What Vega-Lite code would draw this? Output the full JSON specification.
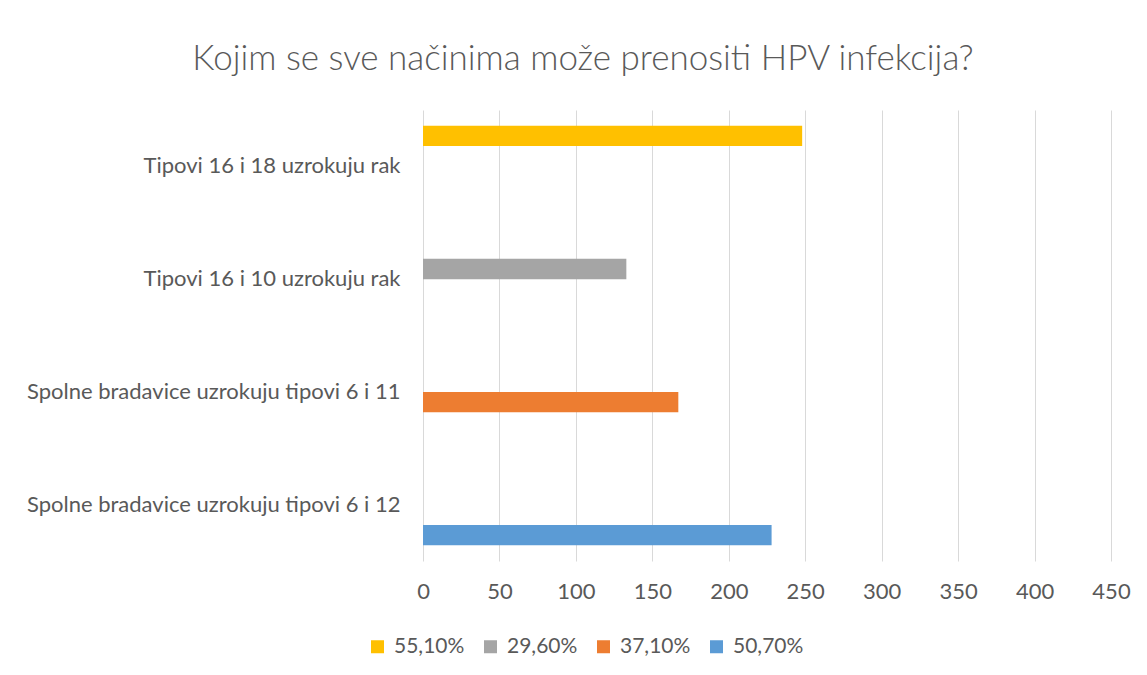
{
  "$schema": "https://vega.github.io/schema/vega-lite/v6.json",
  "autosize": "none",
  "width": 688,
  "height": 451,
  "padding": {"left": 423, "top": 110, "right": 36, "bottom": 114},
  "background": "white",
  "title": {
    "text": "Kojim se sve načinima može prenositi HPV infekcija?",
    "anchor": "middle",
    "frame": "group",
    "dx": -184,
    "offset": 5,
    "baseline": "alphabetic",
    "font": "Lato",
    "fontWeight": 300,
    "fontSize": 35,
    "color": "#595959"
  },
  "data": {
    "values": [
      {"cat": "Tipovi 16 i 18 uzrokuju rak", "series": "55,10%", "value": 248},
      {"cat": "Tipovi 16 i 10 uzrokuju rak", "series": "29,60%", "value": 133},
      {"cat": "Spolne bradavice uzrokuju tipovi 6 i 11", "series": "37,10%", "value": 167},
      {"cat": "Spolne bradavice uzrokuju tipovi 6 i 12", "series": "50,70%", "value": 228}
    ]
  },
  "mark": {"type": "bar"},
  "encoding": {
    "y": {
      "field": "cat",
      "type": "nominal",
      "sort": ["Tipovi 16 i 18 uzrokuju rak", "Tipovi 16 i 10 uzrokuju rak", "Spolne bradavice uzrokuju tipovi 6 i 11", "Spolne bradavice uzrokuju tipovi 6 i 12"],
      "scale": {"paddingInner": 0, "paddingOuter": 0},
      "axis": {
        "title": null,
        "ticks": false,
        "domain": false,
        "labelPadding": 23,
        "labelFont": "Lato",
        "labelFontSize": 22,
        "labelColor": "#595959",
        "labelLimit": 500
      }
    },
    "yOffset": {
      "field": "series",
      "type": "nominal",
      "sort": ["55,10%", "29,60%", "37,10%", "50,70%"],
      "scale": {"paddingInner": 0, "paddingOuter": 0.78}
    },
    "x": {
      "field": "value",
      "type": "quantitative",
      "scale": {"domain": [0, 450], "nice": false},
      "axis": {
        "title": null,
        "values": [0, 50, 100, 150, 200, 250, 300, 350, 400, 450],
        "ticks": false,
        "domain": false,
        "grid": true,
        "gridColor": "#D9D9D9",
        "gridWidth": 1,
        "labelFlush": false,
        "labelPadding": 20,
        "labelFont": "Lato",
        "labelFontSize": 22,
        "labelColor": "#595959"
      }
    },
    "color": {
      "field": "series",
      "type": "nominal",
      "sort": ["55,10%", "29,60%", "37,10%", "50,70%"],
      "scale": {
        "domain": ["55,10%", "29,60%", "37,10%", "50,70%"],
        "range": ["#FFC000", "#A5A5A5", "#ED7D31", "#5B9BD5"]
      },
      "legend": {
        "title": null,
        "orient": "none",
        "direction": "horizontal",
        "legendX": -56,
        "legendY": 526,
        "symbolType": "square",
        "symbolSize": 169,
        "symbolStrokeWidth": 0,
        "labelFont": "Lato",
        "labelFontSize": 21,
        "labelColor": "#595959",
        "labelOffset": 6,
        "columnPadding": 15
      }
    }
  },
  "config": {
    "view": {"stroke": null}
  }
}
